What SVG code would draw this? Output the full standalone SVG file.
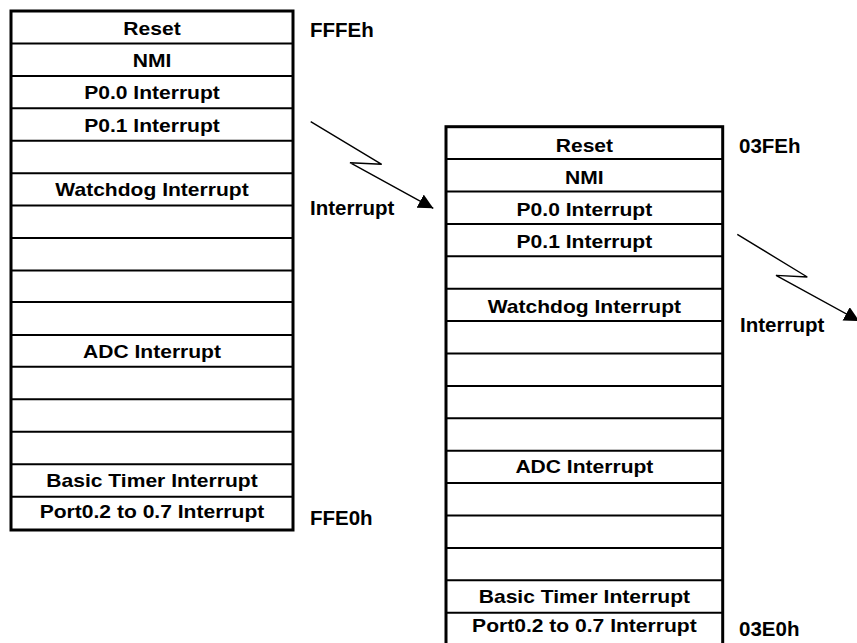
<svg xmlns="http://www.w3.org/2000/svg" width="857" height="643" viewBox="0 0 857 643">
<style>
.frame{fill:#fff;stroke:#000;stroke-width:3}
.sep{stroke:#000;stroke-width:2}
.cell{font-family:"Liberation Sans",Arial,sans-serif;font-weight:bold;font-size:18px;text-anchor:middle;fill:#000}
.lbl{font-family:"Liberation Sans",Arial,sans-serif;font-weight:bold;font-size:20.5px;fill:#000}
.conn{fill:none;stroke:#000;stroke-width:1.4}
</style>
<defs>
<marker id="ah" markerUnits="userSpaceOnUse" markerWidth="18" markerHeight="18" refX="15" refY="7.5" orient="auto">
<path d="M0,0 L15,7.5 L0,15 z" fill="#000"/>
</marker>
</defs>
<rect width="857" height="643" fill="#fff"/>
<g id="table-flash">
<rect class="frame" x="11" y="11" width="282" height="519"/>
<g class="sep">
<line x1="11" y1="43.4" x2="293" y2="43.4"/>
<line x1="11" y1="75.9" x2="293" y2="75.9"/>
<line x1="11" y1="108.3" x2="293" y2="108.3"/>
<line x1="11" y1="140.8" x2="293" y2="140.8"/>
<line x1="11" y1="173.2" x2="293" y2="173.2"/>
<line x1="11" y1="205.6" x2="293" y2="205.6"/>
<line x1="11" y1="238.1" x2="293" y2="238.1"/>
<line x1="11" y1="270.5" x2="293" y2="270.5"/>
<line x1="11" y1="302" x2="293" y2="302"/>
<line x1="11" y1="335" x2="293" y2="335"/>
<line x1="11" y1="366.8" x2="293" y2="366.8"/>
<line x1="11" y1="399.3" x2="293" y2="399.3"/>
<line x1="11" y1="431.7" x2="293" y2="431.7"/>
<line x1="11" y1="464.3" x2="293" y2="464.3"/>
<line x1="11" y1="496.7" x2="293" y2="496.7"/>
</g>
<text class="cell" transform="translate(152,35) scale(1.17,1)">Reset</text>
<text class="cell" transform="translate(152,66.7) scale(1.17,1)">NMI</text>
<text class="cell" transform="translate(152,99.3) scale(1.17,1)">P0.0 Interrupt</text>
<text class="cell" transform="translate(152,131.7) scale(1.17,1)">P0.1 Interrupt</text>
<text class="cell" transform="translate(152,196) scale(1.17,1)">Watchdog Interrupt</text>
<text class="cell" transform="translate(152,358.3) scale(1.17,1)">ADC Interrupt</text>
<text class="cell" transform="translate(152,486.7) scale(1.17,1)">Basic Timer Interrupt</text>
<text class="cell" transform="translate(152,518.3) scale(1.17,1)">Port0.2 to 0.7 Interrupt</text>
</g>
<g id="table-ram">
<rect class="frame" x="446" y="126.7" width="276.7" height="519"/>
<g class="sep">
<line x1="446" y1="159.1" x2="722.7" y2="159.1"/>
<line x1="446" y1="191.5" x2="722.7" y2="191.5"/>
<line x1="446" y1="223.9" x2="722.7" y2="223.9"/>
<line x1="446" y1="256.3" x2="722.7" y2="256.3"/>
<line x1="446" y1="288.7" x2="722.7" y2="288.7"/>
<line x1="446" y1="321.1" x2="722.7" y2="321.1"/>
<line x1="446" y1="353.5" x2="722.7" y2="353.5"/>
<line x1="446" y1="385.9" x2="722.7" y2="385.9"/>
<line x1="446" y1="418.3" x2="722.7" y2="418.3"/>
<line x1="446" y1="450.7" x2="722.7" y2="450.7"/>
<line x1="446" y1="483.1" x2="722.7" y2="483.1"/>
<line x1="446" y1="515.5" x2="722.7" y2="515.5"/>
<line x1="446" y1="547.9" x2="722.7" y2="547.9"/>
<line x1="446" y1="580.3" x2="722.7" y2="580.3"/>
<line x1="446" y1="612.7" x2="722.7" y2="612.7"/>
</g>
<text class="cell" transform="translate(584.4,151.7) scale(1.17,1)">Reset</text>
<text class="cell" transform="translate(584.4,184) scale(1.17,1)">NMI</text>
<text class="cell" transform="translate(584.4,216) scale(1.17,1)">P0.0 Interrupt</text>
<text class="cell" transform="translate(584.4,248.3) scale(1.17,1)">P0.1 Interrupt</text>
<text class="cell" transform="translate(584.4,312.5) scale(1.17,1)">Watchdog Interrupt</text>
<text class="cell" transform="translate(584.4,473.3) scale(1.17,1)">ADC Interrupt</text>
<text class="cell" transform="translate(584.4,603.3) scale(1.17,1)">Basic Timer Interrupt</text>
<text class="cell" transform="translate(584.4,632) scale(1.17,1)">Port0.2 to 0.7 Interrupt</text>
</g>
<g id="addr-fffe"><text class="lbl" x="310" y="36.7">FFFEh</text></g>
<g id="addr-ffe0"><text class="lbl" x="310" y="525">FFE0h</text></g>
<g id="addr-03fe"><text class="lbl" x="739" y="153.3">03FEh</text></g>
<g id="addr-03e0"><text class="lbl" x="739" y="636">03E0h</text></g>
<g id="label-int1"><text class="lbl" x="310" y="215">Interrupt</text></g>
<g id="label-int2"><text class="lbl" x="740" y="331.7">Interrupt</text></g>
<g id="connectors">
<polyline class="conn" points="310.7,121.7 381.7,164.3 350,162.7 433.3,208.3" marker-end="url(#ah)"/>
<polyline class="conn" points="737.3,234.4 807.3,277 776,275.4 859.3,321" marker-end="url(#ah)"/>
</g>
</svg>
